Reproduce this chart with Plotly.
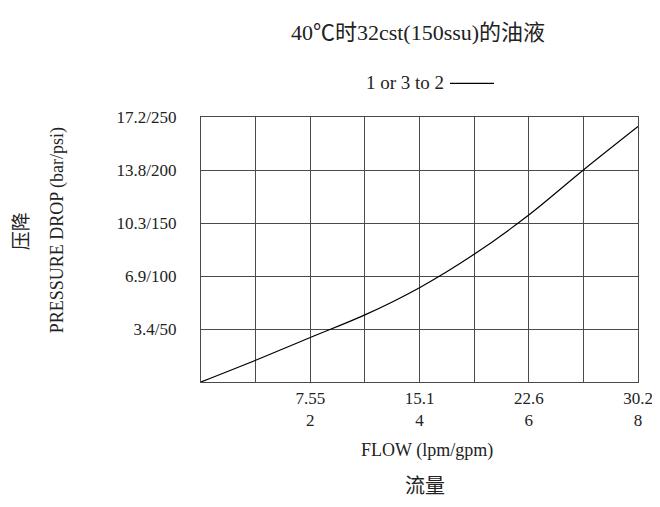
import plotly.graph_objects as go

flow_gpm = [0, 1, 2, 3, 4, 5, 6, 7, 8]
pressure_psi = [0, 20.5, 42, 63.3, 89, 120.5, 157.5, 200, 241]

x_tickvals = [0, 1, 2, 3, 4, 5, 6, 7, 8]
x_ticktext = ["", "", "7.55<br>2", "", "15.1<br>4", "", "22.6<br>6", "", "30.2<br>8"]
y_tickvals = [0, 50, 100, 150, 200, 250]
y_ticktext = ["", "3.4/50", "6.9/100", "10.3/150", "13.8/200", "17.2/250"]

FONT = "Liberation Serif, Noto Sans CJK SC, serif"
GRID = "#4a4a4a"
W, H = 660, 507
OFF = 8  # page body margin
PL, PR, PT, PB = 201, 638, 116.7, 381.7  # plot area in page pixels


def px(x):
    return (x - PL) / (PR - PL)


def py(y):
    return (PB - y) / (PB - PT)


fig = go.Figure()
fig.add_trace(go.Scatter(
    x=flow_gpm, y=pressure_psi, mode="lines",
    line=dict(color="black", width=1.2, shape="spline", smoothing=1.0),
    showlegend=False, hoverinfo="skip",
))

fig.update_layout(
    width=W, height=H,
    margin=dict(l=PL - OFF, r=W + OFF - PR, t=PT - OFF, b=H + OFF - PB, autoexpand=False),
    paper_bgcolor="white", plot_bgcolor="white",
    font=dict(family=FONT, color="#222", size=17),
    title=dict(text="40℃时32cst(150ssu)的油液", x=(418 - OFF) / W, xanchor="center",
               y=1 - (32 - OFF) / H, yanchor="middle",
               font=dict(family=FONT, size=22, color="#222")),
    xaxis=dict(range=[0, 8], tickmode="array", tickvals=x_tickvals, ticktext=x_ticktext,
               showgrid=True, gridcolor=GRID, gridwidth=1.4,
               showline=True, linecolor=GRID, linewidth=1.4, mirror=True,
               ticks="", zeroline=False, tickfont=dict(size=17), automargin=False),
    yaxis=dict(range=[0, 250], tickmode="array", tickvals=y_tickvals, ticktext=y_ticktext,
               showgrid=True, gridcolor=GRID, gridwidth=1.4,
               showline=True, linecolor=GRID, linewidth=1.4, mirror=True,
               ticks="", zeroline=False, ticklabelstandoff=20, tickfont=dict(size=17),
               automargin=False),
)

# x-axis title lines
fig.add_annotation(text="FLOW (lpm/gpm)", xref="paper", yref="paper",
                   x=px(427), y=py(450), showarrow=False, font=dict(size=18),
                   xanchor="center", yanchor="middle")
fig.add_annotation(text="流量", xref="paper", yref="paper",
                   x=px(425), y=py(486), showarrow=False, font=dict(size=20),
                   xanchor="center", yanchor="middle")

# y-axis title (two rotated lines)
fig.add_annotation(text="PRESSURE DROP (bar/psi)", xref="paper", yref="paper",
                   x=px(57), y=py(230), textangle=-90,
                   showarrow=False, font=dict(size=18), xanchor="center", yanchor="middle")
fig.add_annotation(text="压降", xref="paper", yref="paper",
                   x=px(21), y=py(231), textangle=-90,
                   showarrow=False, font=dict(size=19), xanchor="center", yanchor="middle")

# legend-like label
fig.add_annotation(text="1 or 3 to 2", xref="paper", yref="paper",
                   x=px(446), y=py(82), xanchor="right", yanchor="middle",
                   showarrow=False, font=dict(size=19))
fig.add_shape(type="line", xref="paper", yref="paper",
              x0=px(450), x1=px(494), y0=py(83), y1=py(83),
              line=dict(color="black", width=1.2))

fig.write_html("out.html")
